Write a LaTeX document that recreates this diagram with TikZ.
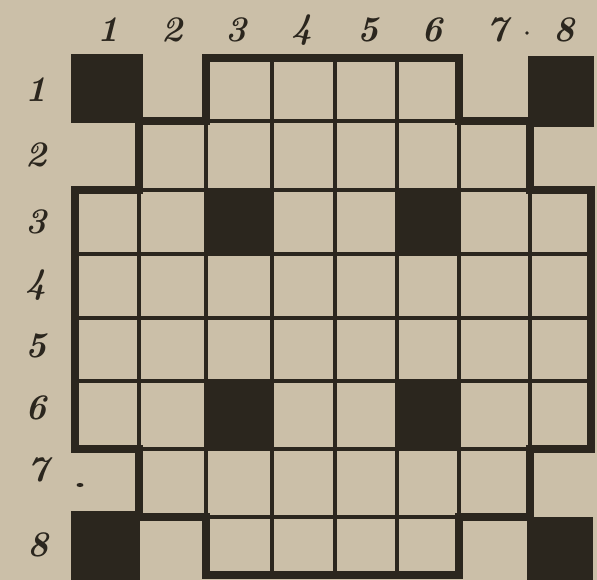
\documentclass[tikz,border=0pt]{standalone}
\usepackage{fontspec}
\setmainfont{Latin Modern Roman}
\definecolor{paper}{RGB}{203,191,168}
\definecolor{ink}{RGB}{43,38,30}
\begin{document}
\begin{tikzpicture}[x=1pt,y=-1pt,
  lbl/.style={text=ink,font=\fontsize{36}{36}\selectfont\bfseries\itshape,inner sep=0pt},
  thin/.style={draw=ink,line width=3.6pt},
  thick/.style={draw=ink,line width=7.5pt,line join=miter},
  blk/.style={fill=ink}]
\def\Xa{75}\def\Xb{139}\def\Xc{206}\def\Xd{272}\def\Xe{335}\def\Xf{397}\def\Xg{459}\def\Xh{530}\def\Xi{591}
\def\Ya{58}\def\Yb{121}\def\Yc{190}\def\Yd{254}\def\Ye{318}\def\Yf{381}\def\Yg{449}\def\Yh{517}\def\Yi{575}
\fill[paper] (0,0) rectangle (597,580);
\useasboundingbox (0,0) rectangle (597,580);
% black cells
\fill[blk] (\Xa-4,\Ya-4) rectangle (\Xb+4,\Yb+2);
\fill[blk] (\Xh-2,\Ya-2) rectangle (\Xi+3,\Yb+6);
\fill[blk] (\Xa-4,\Yh-6) rectangle (\Xb+1,582);
\fill[blk] (\Xh-3,\Yh) rectangle (\Xi+2,582);
\fill[blk] (\Xc,\Yc) rectangle (\Xd,\Yd);
\fill[blk] (\Xf,\Yc) rectangle (\Xg,\Yd);
\fill[blk] (\Xc,\Yf) rectangle (\Xd,\Yg);
\fill[blk] (\Xf,\Yf) rectangle (\Xg,\Yg);
% outline path
\def\outline{(\Xc,\Ya) -- (\Xg,\Ya) -- (\Xg,\Yb) -- (\Xh,\Yb) -- (\Xh,\Yc) -- (\Xi,\Yc) -- (\Xi,\Yg) -- (\Xh,\Yg) -- (\Xh,\Yh) -- (\Xg,\Yh) -- (\Xg,\Yi) -- (\Xc,\Yi) -- (\Xc,\Yh) -- (\Xb,\Yh) -- (\Xb,\Yg) -- (\Xa,\Yg) -- (\Xa,\Yc) -- (\Xb,\Yc) -- (\Xb,\Yb) -- (\Xc,\Yb) -- cycle}
\begin{scope}
\clip \outline;
\foreach \x in {\Xb,\Xc,\Xd,\Xe,\Xf,\Xg,\Xh} \draw[thin] (\x,0) -- (\x,580);
\foreach \y in {\Yb,\Yc,\Yd,\Ye,\Yf,\Yg,\Yh} \draw[thin] (0,\y) -- (597,\y);
\end{scope}
\draw[thick] \outline;
% column labels
\node[lbl] (c1) at (108,30) {1};
\node[lbl] (c2) at (172,30) {2};
\node[lbl] (c3) at (236,30) {3};
\node[lbl] (c4) at (302,30) {4};
\node[lbl] (c5) at (368,30) {5};
\node[lbl] (c6) at (432,30) {6};
\node[lbl] (c7) at (497,30) {7};
\node[lbl] (c8) at (564,30) {8};
% row labels
\node[lbl] (r1) at (36,90) {1};
\node[lbl] (r2) at (36,155) {2};
\node[lbl] (r3) at (36,222) {3};
\node[lbl] (r4) at (36,285) {4};
\node[lbl] (r5) at (36,346) {5};
\node[lbl] (r6) at (36,408) {6};
\node[lbl] (r7) at (38,470) {7};
\node[lbl] (r8) at (38,545) {8};
% stray dots
\fill[ink] (527,33) circle (1.8);
\fill[ink] (80,485) ellipse (3.5 and 2);
\end{tikzpicture}
\end{document}
